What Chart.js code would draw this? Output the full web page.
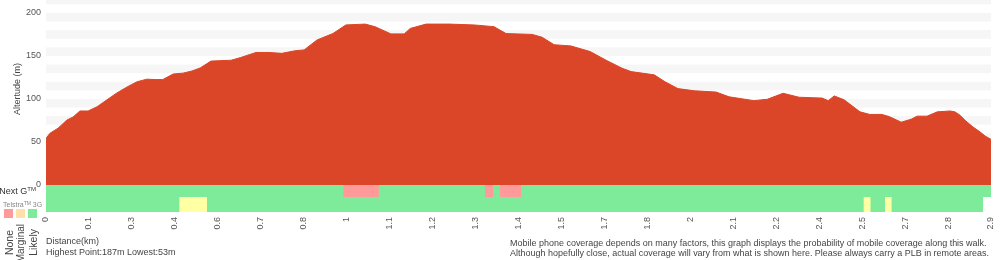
<!DOCTYPE html>
<html>
<head>
<meta charset="utf-8">
<script src="https://cdn.jsdelivr.net/npm/chart.js@4.4.1/dist/chart.umd.min.js"></script>
<style>
  html, body { margin:0; padding:0; background:#fff; }
  #wrap { position:relative; width:1000px; height:260px; overflow:hidden; font-family:"Liberation Sans", Arial, Helvetica, sans-serif; }
  canvas { position:absolute; left:0; top:0; }
  .t { position:absolute; white-space:nowrap; color:#444; line-height:1; }
  .sq { position:absolute; width:9px; height:9px; }
</style>
</head>
<body>
<div id="wrap">
  <canvas id="c" width="1000" height="260"></canvas>
  <div class="t" id="ytitle" style="font-size:9px;left:16.5px;top:89px;transform:translate(-50%,-50%) rotate(-90deg);">Altertude (m)</div>
  <div class="t" id="nextg" style="font-size:9px;right:964px;top:186px;color:#333;">Next G<span style="font-size:6px;vertical-align:3px;">TM</span></div>
  <div class="t" style="font-size:7px;left:3px;top:201px;color:#888;">Telstra<span style="font-size:5px;vertical-align:2px;">TM</span> 3G</div>
  <div class="sq" id="sq0" style="left:4px;top:209px;"></div>
  <div class="sq" id="sq1" style="left:16px;top:209px;"></div>
  <div class="sq" id="sq2" style="left:28px;top:209px;"></div>
  <div class="t leg" style="font-size:10.5px;left:8.5px;top:230px;transform-origin:0 0;transform:rotate(-90deg) translate(-100%,-50%);">None</div>
  <div class="t leg" style="font-size:10px;left:20.5px;top:224px;transform-origin:0 0;transform:rotate(-90deg) translate(-100%,-50%);">Marginal</div>
  <div class="t leg" style="font-size:10.5px;left:32.5px;top:229px;transform-origin:0 0;transform:rotate(-90deg) translate(-100%,-50%);">Likely</div>
  <div class="t" style="font-size:9px;left:46px;top:237px;">Distance(km)</div>
  <div class="t" style="font-size:9px;left:46px;top:248px;">Highest Point:187m Lowest:53m</div>
  <div class="t" id="note" style="font-size:9px;left:510px;top:238px;line-height:10px;transform-origin:0 0;">Mobile phone coverage depends on many factors, this graph displays the probability of mobile coverage along this walk.<br>Although hopefully close, actual coverage will vary from what is shown here. Please always carry a PLB in remote areas.</div>
</div>
<script>
// ---- data ----
const xLabels = ['0','0.1','0.3','0.4','0.6','0.7','0.8','1','1.1','1.2','1.3','1.4','1.5','1.7','1.8','2','2.1','2.2','2.4','2.5','2.7','2.8','2.9'];
const yTicks = [0, 50, 100, 150, 200];
// positions along the track (in units of the labelled sample steps) and altitude (m)
const elevPos = [0,0.09,0.28,0.49,0.63,0.79,0.98,1.19,1.42,1.65,1.89,2.12,2.35,2.54,2.72,2.96,3.19,3.40,3.59,3.84,4.31,4.52,4.89,5.19,5.49,5.80,6.01,6.31,6.68,6.98,7.43,7.66,8.03,8.34,8.48,8.85,9.38,9.97,10.43,10.71,11.32,11.55,11.83,12.22,12.67,13.04,13.41,13.62,14.16,14.41,14.71,15.09,15.60,15.90,16.48,16.79,17.16,17.53,18.07,18.21,18.35,18.58,18.95,19.18,19.46,19.63,19.91,20.14,20.28,20.51,20.75,21.05,21.16,21.28,21.40,21.58,21.75,21.86,22.00];
const elevVal = [54,60,66,75.6,79,86,86,91,99,107,114,120,123,122.5,122.5,129,130,132.5,136,144,145,148,154,154,153,156,157,168.6,176,186,187,184,175.6,175.6,182,187,187,186,184,176,175,171.7,163,161.6,155,145,135.7,131.8,128,120,112,109.5,108,102.5,98,99.6,106.6,102,101,98,103.5,99,85,82,82,79.5,73,76.4,80,80,85,86,85,81,75,67.5,61.5,57,53];
// coverage spans [start, end] along the same position units
const nextGLikely = [[0, 22]];
const nextGNone = [[6.92, 7.75], [10.22, 10.41], [10.57, 11.06]];
const g3Likely = [[0, 21.82]];
const g3Marginal = [[3.10, 3.75], [19.03, 19.20], [19.53, 19.69]];

// ---- style / layout ----
const FONT = '"Liberation Sans", Arial, Helvetica, sans-serif';
const C_ELEV = '#DA4627', C_LIKELY = '#7DEB9A', C_NONE = '#FF9A9A', C_MARG = '#FFFFA3', C_MARG_LEG = '#FFE0A6';
const ROW_NEXTG = [-14, 0], ROW_3G = [-31.4, -14];

document.getElementById('sq0').style.background = C_NONE;
document.getElementById('sq1').style.background = C_MARG_LEG;
document.getElementById('sq2').style.background = C_LIKELY;

function spanSets(spans, row, color, order) {
  return spans.map(s => ({
    data: [{x: s[0], y: row[1]}, {x: s[1], y: row[1]}],
    backgroundColor: color, borderWidth: 0, borderColor: color,
    pointRadius: 0, fill: {value: row[0]}, tension: 0, order
  }));
}

const datasets = [
  {
    data: elevPos.map((p, i) => ({x: p, y: elevVal[i]})),
    backgroundColor: C_ELEV, borderColor: C_ELEV, borderWidth: 1,
    pointRadius: 0, fill: 'origin', tension: 0, order: 0
  },
  ...spanSets(nextGLikely, ROW_NEXTG, C_LIKELY, 2),
  ...spanSets(nextGNone, ROW_NEXTG, C_NONE, 1),
  ...spanSets(g3Likely, ROW_3G, C_LIKELY, 2),
  ...spanSets(g3Marginal, ROW_3G, C_MARG, 1)
];

const bands = {
  id: 'bands',
  beforeDatasetsDraw(chart) {
    const {ctx, chartArea: a, scales: {y}} = chart;
    ctx.save();
    ctx.fillStyle = '#F6F6F6';
    for (let v = 10; v < 240; v += 20) {
      const top = Math.max(a.top, y.getPixelForValue(v + 10));
      const bot = y.getPixelForValue(v);
      if (bot > top) ctx.fillRect(a.left, top, a.right - a.left, bot - top);
    }
    ctx.restore();
  }
};

new Chart(document.getElementById('c'), {
  type: 'line',
  data: {datasets},
  options: {
    responsive: false, animation: false,
    layout: {padding: {left: 0, right: 9, top: 0, bottom: 0}},
    plugins: {legend: {display: false}, tooltip: {enabled: false}},
    scales: {
      x: {
        type: 'linear', min: 0, max: 22,
        grid: {display: false, drawTicks: false}, border: {display: false},
        ticks: {stepSize: 1, autoSkip: false, maxRotation: 90, minRotation: 90, padding: 5,
          color: '#555', font: {size: 9, family: FONT},
          callback: v => xLabels[Math.round(v)] ?? ''},
        afterFit: s => { s.height = 48; s.paddingLeft = 0; s.paddingRight = 0; }
      },
      y: {
        min: -31.4, max: 215,
        grid: {display: false, drawTicks: false}, border: {display: false},
        ticks: {padding: 5, color: '#555', font: {size: 9, family: FONT}},
        afterBuildTicks: s => { s.ticks = yTicks.map(v => ({value: v})); },
        afterFit: s => { s.width = 46; s.paddingTop = 0; s.paddingBottom = 0; }
      }
    }
  },
  plugins: [bands]
});

// fit footnote width
const note = document.getElementById('note');
const w = note.getBoundingClientRect().width;
note.style.transform = 'scaleX(' + (479 / w) + ')';
</script>
</body>
</html>
